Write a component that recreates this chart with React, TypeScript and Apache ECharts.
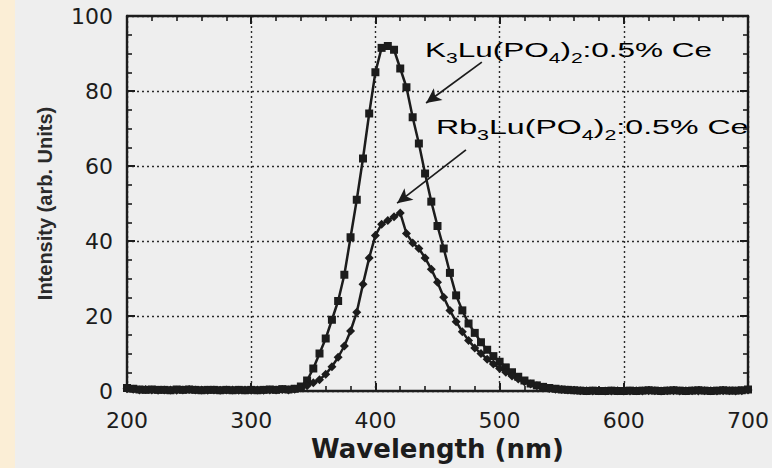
import React, { useEffect, useRef } from "react";
import * as echarts from "echarts";

const wavelengths = [
  200, 205, 210, 215, 220, 225, 230, 235, 240, 245,
  250, 255, 260, 265, 270, 275, 280, 285, 290, 295,
  300, 305, 310, 315, 320, 325, 330, 335, 340, 345,
  350, 355, 360, 365, 370, 375, 380, 385, 390, 395,
  400, 405, 410, 415, 420, 425, 430, 435, 440, 445,
  450, 455, 460, 465, 470, 475, 480, 485, 490, 495,
  500, 505, 510, 515, 520, 525, 530, 535, 540, 545,
  550, 555, 560, 565, 570, 575, 580, 585, 590, 595,
  600, 605, 610, 615, 620, 625, 630, 635, 640, 645,
  650, 655, 660, 665, 670, 675, 680, 685, 690, 695,
  700,
];

const kIntensity = [
  0.8, 0.6, 0.4, 0.3, 0.4, 0.3, 0.3, 0.2, 0.4, 0.3,
  0.4, 0.3, 0.2, 0.3, 0.3, 0.2, 0.3, 0.2, 0.3, 0.2,
  0.3, 0.2, 0.3, 0.4, 0.3, 0.5, 0.4, 0.6, 1.2, 2.8,
  6.0, 10.0, 14.0, 19.0, 24.0, 31.0, 41.0, 51.0, 62.0, 74.0,
  85.0, 91.5, 92.0, 91.0, 86.0, 81.0, 73.0, 66.0, 58.0, 50.5,
  44.0, 38.0, 31.5, 25.5, 21.5, 18.0, 15.5, 13.0, 11.0, 9.3,
  7.8, 6.3, 5.0, 3.8, 2.8, 2.0, 1.5, 1.1, 0.8, 0.6,
  0.4, 0.3, 0.2, 0.1, 0.0, 0.1, 0.0, 0.0, 0.1, 0.0,
  0.0, 0.1, 0.0, 0.1, 0.2, 0.1, 0.0, 0.1, 0.2, 0.1,
  0.0, 0.1, 0.2, 0.1, 0.0, 0.1, 0.2, 0.1, 0.1, 0.2,
  0.4,
];

const rbIntensity = [
  0.6, 0.5, 0.3, 0.4, 0.3, 0.2, 0.3, 0.3, 0.2, 0.3,
  0.4, 0.3, 0.3, 0.2, 0.3, 0.2, 0.3, 0.3, 0.2, 0.3,
  0.2, 0.3, 0.2, 0.3, 0.3, 0.4, 0.3, 0.5, 0.8, 1.4,
  2.2, 3.0, 4.5, 6.5, 9.0, 12.0, 16.0, 21.0, 28.5, 35.5,
  41.5, 44.5, 45.5, 46.5, 47.5, 42.0, 39.5, 38.0, 35.5, 32.5,
  29.0, 25.0, 21.5, 18.5, 15.8, 13.5, 11.5, 10.0, 8.5, 7.2,
  6.0, 5.0, 4.0, 3.2, 2.5, 1.9, 1.4, 1.0, 0.7, 0.5,
  0.4, 0.3, 0.2, 0.1, 0.1, 0.0, 0.1, 0.0, 0.0, 0.1,
  0.0, 0.0, 0.1, 0.0, 0.1, 0.1, 0.0, 0.1, 0.1, 0.0,
  0.1, 0.1, 0.0, 0.1, 0.1, 0.0, 0.1, 0.1, 0.0, 0.1,
  0.3,
];

// annotation arrows, in data units: [fromX, fromY, toX, toY]
const kArrow = [485.7, 87.7, 440.8, 76.8];
const rbArrow = [472.9, 64.3, 417.5, 50.1];

const xTicks = { min: 200, max: 700, interval: 100 };
const yTicks = { min: 0, max: 100, interval: 20 };

const INK = "#1c1c1c";

function axisCommon(minorSplit: number) {
  return {
    axisLine: { show: true, onZero: false, lineStyle: { color: INK, width: 2.4 } },
    axisTick: { show: true, inside: true, length: 8, lineStyle: { color: INK, width: 2 } },
    minorTick: { show: true, splitNumber: minorSplit, length: 5, lineStyle: { color: INK, width: 1.6 } },
  };
}

export default function App() {
  const ref = useRef<HTMLDivElement>(null);
  useEffect(() => {
    if (!ref.current) return;
    const chart = echarts.init(ref.current, null, { renderer: "svg" });
    const kData = wavelengths.map((w, i) => [w, kIntensity[i]]);
    const rbData = wavelengths.map((w, i) => [w, rbIntensity[i]]);
    const rich = {
      m: { fontSize: 21, lineHeight: 30, fontFamily: "Liberation Sans", color: INK },
      s: { fontSize: 14, lineHeight: 12, verticalAlign: "bottom", fontFamily: "Liberation Sans", color: INK },
    };
    chart.setOption({
      animation: false,
      backgroundColor: "transparent",
      grid: { left: 127, right: 22, top: 16, bottom: 77, containLabel: false },
      xAxis: [
        {
          type: "value",
          ...xTicks,
          position: "bottom",
          ...axisCommon(5),
          splitLine: { show: true, lineStyle: { type: [2, 3], color: "#2a2a2a", width: 1.4 } },
          axisLabel: { fontSize: 22, color: INK, margin: 18, fontFamily: "DejaVu Sans" },
          name: "Wavelength (nm)",
          nameLocation: "middle",
          nameGap: 43,
          nameTextStyle: { fontSize: 26, fontWeight: "bold", fontFamily: "DejaVu Sans", color: INK },
        },
        {
          type: "value",
          ...xTicks,
          position: "top",
          ...axisCommon(5),
          splitLine: { show: false },
          axisLabel: { show: false },
        },
      ],
      yAxis: [
        {
          type: "value",
          ...yTicks,
          position: "left",
          ...axisCommon(4),
          splitLine: { show: true, lineStyle: { type: [2, 3], color: "#2a2a2a", width: 1.4 } },
          axisLabel: { fontSize: 22, color: INK, margin: 14, fontFamily: "DejaVu Sans" },
          name: "Intensity (arb. Units)",
          nameLocation: "middle",
          nameGap: 72,
          nameTextStyle: { fontSize: 20, fontWeight: "bold", fontFamily: "Liberation Sans", color: "#2a2a2a" },
        },
        {
          type: "value",
          ...yTicks,
          position: "right",
          ...axisCommon(4),
          splitLine: { show: false },
          axisLabel: { show: false },
        },
      ],
      series: [
        {
          name: "K3Lu(PO4)2:0.5% Ce",
          type: "line",
          xAxisIndex: 0,
          yAxisIndex: 0,
          data: kData,
          symbol: "rect",
          symbolSize: 8,
          lineStyle: { color: INK, width: 2.5 },
          itemStyle: { color: INK },
          markLine: {
            silent: true,
            symbol: ["none", "arrow"],
            symbolSize: [11, 15],
            lineStyle: { type: "solid", color: INK, width: 1.8 },
            label: { show: false },
            data: [
              [{ coord: [kArrow[0], kArrow[1]] }, { coord: [kArrow[2], kArrow[3]] }],
              [{ coord: [rbArrow[0], rbArrow[1]] }, { coord: [rbArrow[2], rbArrow[3]] }],
            ],
          },
        },
        {
          name: "Rb3Lu(PO4)2:0.5% Ce",
          type: "line",
          xAxisIndex: 0,
          yAxisIndex: 0,
          data: rbData,
          symbol: "diamond",
          symbolSize: 9,
          lineStyle: { color: INK, width: 2.5 },
          itemStyle: { color: INK },
        },
      ],
      graphic: [
        {
          type: "text",
          x: 425,
          y: 50,
          scaleX: 1.5,
          style: {
            text: "{m|K}{s|3}{m|Lu(PO}{s|4}{m|)}{s|2}{m|:0.5% Ce}",
            rich,
            verticalAlign: "middle",
            align: "left",
          },
        },
        {
          type: "text",
          x: 436,
          y: 127,
          scaleX: 1.53,
          style: {
            text: "{m|Rb}{s|3}{m|Lu(PO}{s|4}{m|)}{s|2}{m|:0.5% Ce}",
            rich,
            verticalAlign: "middle",
            align: "left",
          },
        },
      ],
    });
    return () => chart.dispose();
  }, []);
  return (
    <div
      ref={ref}
      style={{
        position: "fixed",
        left: 0,
        top: 0,
        width: 772,
        height: 468,
        background: "linear-gradient(to right, #fbeed6 0px, #fbeed6 15px, #eeeeee 15px, #eeeeee 100%)",
      }}
    />
  );
}
